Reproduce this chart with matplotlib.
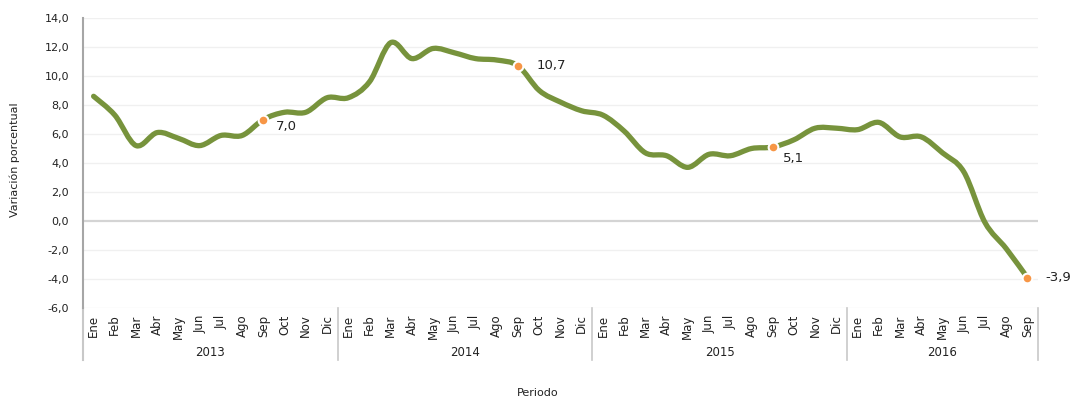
import numpy as np
import matplotlib
matplotlib.use("Agg")
import matplotlib.pyplot as plt
from matplotlib.path import Path
from matplotlib.patches import PathPatch

#==============================================================================
# data
years = ["2013", "2014", "2015", "2016"]
months = ["Ene", "Feb", "Mar", "Abr", "May", "Jun", "Jul", "Ago", "Sep",
          "Oct", "Nov", "Dic"]
values = [8.6, 7.3, 5.2, 6.1, 5.7, 5.2, 5.9, 5.9, 7.0, 7.5, 7.5, 8.5,
          8.5, 9.6, 12.3, 11.2, 11.9, 11.6, 11.2, 11.1, 10.7, 9.0, 8.2, 7.6,
          7.3, 6.2, 4.7, 4.5, 3.7, 4.6, 4.5, 5.0, 5.1, 5.6, 6.4, 6.4,
          6.3, 6.8, 5.8, 5.8, 4.7, 3.4, -0.1, -1.9, -3.9]
labelled = [8, 20, 32, 44]
#==============================================================================

n = len(values)
cats = [months[i % 12] for i in range(n)]
x = np.arange(n)
y = np.array(values)

fig = plt.figure(figsize=(10.74, 4.0), dpi=100)
ax = fig.add_axes([83/1074, 1-308/400, (1038-83)/1074, 290/400])
ax.set_xlim(-0.5, n - 0.5)
ax.set_ylim(-6, 14)

# grid
for v in np.arange(-6, 15, 2):
    ax.axhline(v, color="#D4D4D4" if v == 0 else "#F0F0F0",
               lw=1.6 if v == 0 else 1.0, zorder=0)

# smoothed line (bezier through the points, like excel)
pts = np.column_stack([x, y]).astype(float)
ext = np.vstack([pts[0], pts, pts[-1]])
verts = [tuple(pts[0])]
codes = [Path.MOVETO]
for i in range(n - 1):
    p0, p1, p2, p3 = ext[i], ext[i+1], ext[i+2], ext[i+3]
    c1 = p1 + (p2 - p0) / 6
    c2 = p2 - (p3 - p1) / 6
    verts += [tuple(c1), tuple(c2), tuple(p2)]
    codes += [Path.CURVE4] * 3
ax.add_patch(PathPatch(Path(verts, codes), fill=False, edgecolor="#77933C",
                       lw=3.8, capstyle="round", joinstyle="round", zorder=3))

offs = {8: (9, -5), 20: (13, 0), 32: (7, -8), 44: (13, 0)}
for i in labelled:
    ax.plot(x[i], y[i], "o", ms=7, mfc="#F79646", mec="white", mew=1.5,
            zorder=4)
    ax.annotate(f"{values[i]:.1f}".replace(".", ","), (x[i], y[i]),
                xytext=offs[i], textcoords="offset points", fontsize=9.5,
                va="center", ha="left", color="#222222", family="DejaVu Sans")

ax.set_yticks(np.arange(-6, 15, 2))
ax.set_yticklabels([f"{v:.1f}".replace(".", ",") for v in np.arange(-6, 15, 2)],
                   fontsize=8, family="DejaVu Sans", color="#222222")
ax.tick_params(axis="y", length=0, pad=10)
ax.set_xticks([])
for s in ["top", "right", "bottom"]:
    ax.spines[s].set_visible(False)
ax.spines["left"].set_color("#A6A6A6")
ax.spines["left"].set_linewidth(1.5)

# category labels below axes
trans = ax.get_xaxis_transform()
for i, m in enumerate(cats):
    ax.text(x[i], -0.022, m, transform=trans, rotation=90, ha="center",
            va="top", fontsize=8.5, family=["Liberation Sans Narrow", "DejaVu Sans"],
            color="#222222")
for k, yr in enumerate(years):
    start = k * 12
    end = min(start + 12, n)
    ax.text((start + end - 1) / 2, -0.152, yr, transform=trans, ha="center",
            va="center", fontsize=8.5, family="DejaVu Sans", color="#222222")
for b in [-0.5, 11.5, 23.5, 35.5, n - 0.5]:
    ax.plot([b, b], [0, -0.18], transform=trans, color="#C8C8C8", lw=1.2,
            clip_on=False)
ax.plot([-0.5, -0.5], [0, -0.18], transform=trans, color="#C8C8C8", lw=1.5,
        clip_on=False)

fig.text(538/1074, 1-393/400, "Periodo", ha="center", va="center",
         fontsize=8, family="DejaVu Sans", color="#222222")
fig.text(15/1074, 1-160/400, "Variación porcentual", rotation=90, ha="center",
         va="center", fontsize=8, family=["Liberation Sans Narrow", "DejaVu Sans"],
         color="#222222")

fig.savefig("out.png", dpi=100)
